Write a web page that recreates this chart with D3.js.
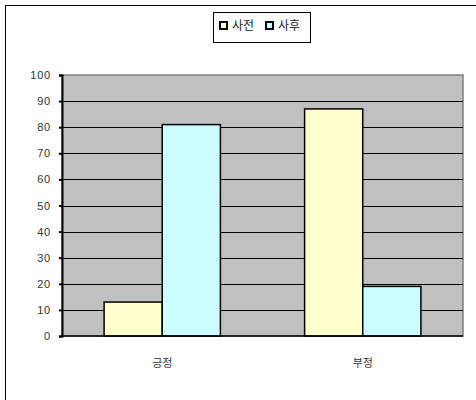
<!DOCTYPE html>
<html>
<head>
<meta charset="utf-8">
<script src="https://cdn.jsdelivr.net/npm/d3@7"></script>
<style>
  body { margin: 0; background: #fff; }
  text { font-family: "Noto Sans CJK KR", "DejaVu Sans", sans-serif; }
</style>
</head>
<body>
<div id="plot"></div>
<script>
// data
const categories = ["긍정", "부정"];
const seriesNames = ["사전", "사후"];
const before = [13, 87];
const after = [81, 19];
const yTicks = [0, 10, 20, 30, 40, 50, 60, 70, 80, 90, 100];
const colors = ["#ffffcc", "#ccffff"];

const W = 476, H = 400;
const margin = { top: 75, bottom: 64, right: 13, left: 62 };
const width = W - margin.left - margin.right;
const height = H - margin.top - margin.bottom;

const svg = d3.select("#plot")
  .append("svg")
    .attr("width", W)
    .attr("height", H);

// outer chart frame (only top/left visible in the cropped picture)
svg.append("rect")
    .attr("x", 5.5).attr("y", 5.5)
    .attr("width", W + 10).attr("height", H + 10)
    .attr("fill", "#fff")
    .attr("stroke", "#000");

const g = svg.append("g")
    .attr("transform", `translate(${margin.left},${margin.top})`);

const x = d3.scaleBand()
    .domain(categories)
    .range([0, width])
    .paddingInner(0.42)
    .paddingOuter(0.21);

const xs = d3.scaleBand()
    .domain(seriesNames)
    .range([0, x.bandwidth()]);

const y = d3.scaleLinear()
    .domain([0, 100])
    .range([height, 0]);

// plot area
g.append("rect")
    .attr("width", width)
    .attr("height", height)
    .attr("fill", "#c0c0c0")
    .attr("stroke", "#808080")
    .attr("stroke-width", 1.5);

// gridlines
g.append("g")
  .selectAll("line")
  .data(yTicks.filter(d => d > 0 && d < 100))
  .join("line")
    .attr("x1", 0).attr("x2", width)
    .attr("y1", d => Math.round(y(d)) + 0.5)
    .attr("y2", d => Math.round(y(d)) + 0.5)
    .attr("stroke", "#000")
    .attr("stroke-width", 1);

// y axis
const yAxis = g.append("g")
  .call(d3.axisLeft(y).tickValues(yTicks).tickSize(3).tickPadding(8));
yAxis.select(".domain").attr("stroke", "#000").attr("stroke-width", 2);
yAxis.selectAll(".tick line").attr("stroke-width", 2);
yAxis.selectAll("text")
    .attr("font-size", 11)
    .attr("fill", "#333")
    .attr("letter-spacing", 0.8)
    .style("font-family", "'Liberation Sans', Arial, sans-serif");

// bars
const rows = categories.map((c, i) => ({ cat: c, values: [before[i], after[i]] }));
g.append("g")
  .selectAll("g")
  .data(rows)
  .join("g")
    .attr("transform", d => `translate(${x(d.cat)},0)`)
  .selectAll("rect")
  .data(d => d.values.map((v, j) => ({ name: seriesNames[j], value: v, j })))
  .join("rect")
    .attr("x", d => xs(d.name))
    .attr("y", d => y(d.value))
    .attr("width", xs.bandwidth())
    .attr("height", d => y(0) - y(d.value))
    .attr("fill", d => colors[d.j])
    .attr("stroke", "#000")
    .attr("stroke-width", 1.5);

// bottom axis line
g.append("line")
    .attr("x1", 0).attr("x2", width)
    .attr("y1", height).attr("y2", height)
    .attr("stroke", "#000")
    .attr("stroke-width", 1.5);

// category labels
g.append("g")
  .selectAll("text")
  .data(categories)
  .join("text")
    .attr("x", d => x(d) + x.bandwidth() / 2)
    .attr("y", height + 31)
    .attr("text-anchor", "middle")
    .attr("font-size", 11)
    .attr("fill", "#333")
    .text(d => d);

// legend
const legend = svg.append("g").attr("transform", "translate(213,12)");
legend.append("rect")
    .attr("x", 0.5).attr("y", 0.5)
    .attr("width", 97).attr("height", 30)
    .attr("fill", "#fff")
    .attr("stroke", "#000");
const item = legend.selectAll("g.item")
  .data(seriesNames)
  .join("g")
    .attr("class", "item")
    .attr("transform", (d, i) => `translate(${7 + i * 46},10)`);
item.append("rect")
    .attr("width", 7).attr("height", 7)
    .attr("fill", (d, i) => colors[i])
    .attr("stroke", "#000")
    .attr("stroke-width", 2);
item.append("text")
    .attr("x", 12).attr("y", 8)
    .attr("font-size", 12)
    .attr("fill", "#222")
    .text(d => d);
</script>
</body>
</html>
